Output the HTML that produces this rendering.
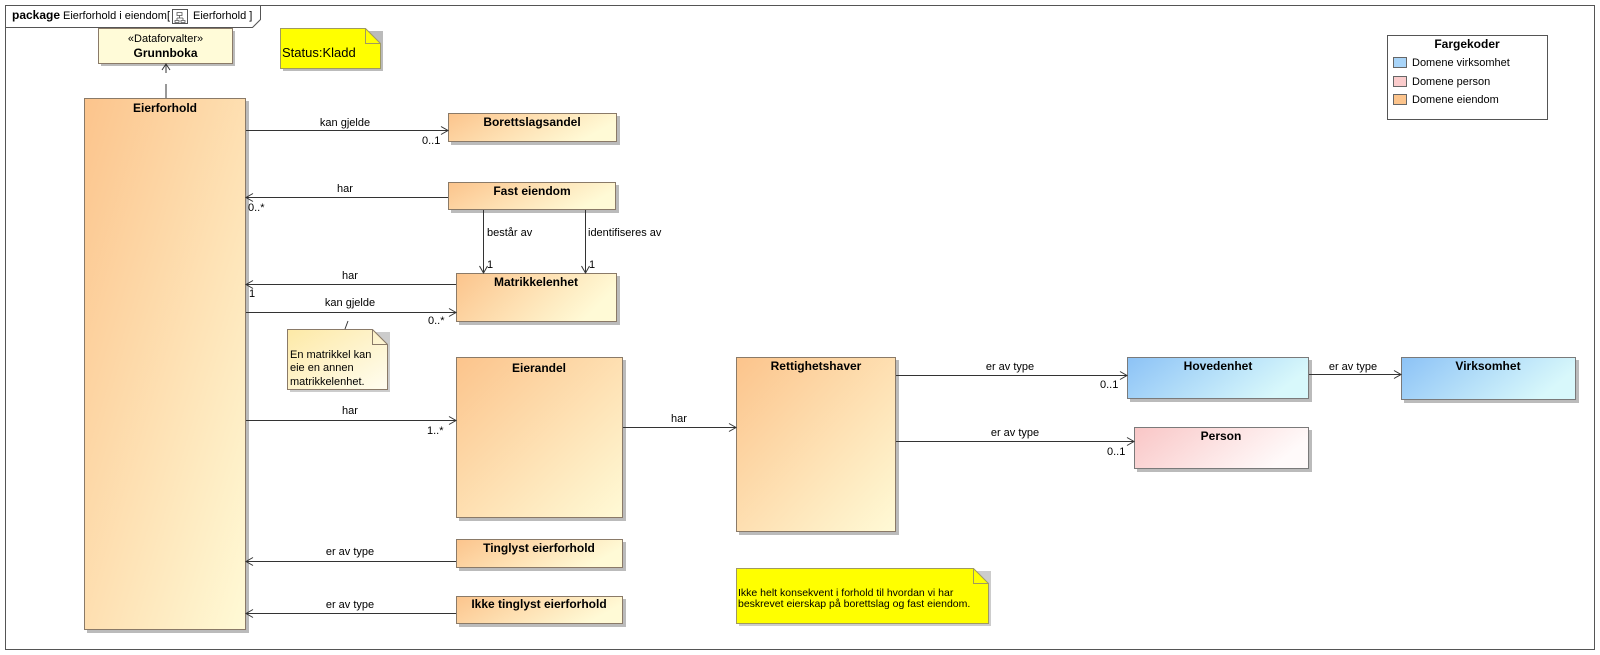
<!DOCTYPE html>
<html><head><meta charset="utf-8"><style>
html,body{margin:0;padding:0;background:#fff;}
svg{display:block;}
text{font-family:"Liberation Sans",Arial,sans-serif;fill:#000;}
.n{font-size:11px;}
.b{font-size:12px;font-weight:bold;}
</style></head><body>
<svg width="1600" height="655" viewBox="0 0 1600 655" xmlns="http://www.w3.org/2000/svg">
<defs>
<linearGradient id="go" x1="0" y1="0" x2="1" y2="1"><stop offset="0" stop-color="#fcc48c"/><stop offset="1" stop-color="#fffad6"/></linearGradient>
<linearGradient id="goh" x1="0" y1="0" x2="1" y2="0.3"><stop offset="0" stop-color="#fcc48c"/><stop offset="1" stop-color="#fffad6"/></linearGradient>
<linearGradient id="gb" x1="0" y1="0" x2="1" y2="0.3"><stop offset="0" stop-color="#8cc2f6"/><stop offset="1" stop-color="#d8f8fb"/></linearGradient>
<linearGradient id="gp" x1="0" y1="0" x2="1" y2="0.3"><stop offset="0" stop-color="#f9c6c6"/><stop offset="1" stop-color="#fffafa"/></linearGradient>
<linearGradient id="gn" x1="0" y1="0" x2="1" y2="1"><stop offset="0" stop-color="#fde9a6"/><stop offset="1" stop-color="#fffdf0"/></linearGradient>
</defs>

<!-- package frame -->
<rect x="5.5" y="5.5" width="1589" height="644" fill="none" stroke="#555" stroke-width="1"/>
<path d="M5.5 27.5 H252.5 L260.5 19.5 V5.5" fill="none" stroke="#555"/>
<text x="12" y="19" style="font-size:12px;font-weight:bold">package</text>
<text x="63" y="19" class="n">Eierforhold i eiendom[</text>
<rect x="172.5" y="9.5" width="15" height="14" fill="#fff" stroke="#555"/>
<path d="M177 12.5h5v3h-5z M175 20.5h4v2h-4z M181 20.5h4v2h-4z M179.5 15.5v2.5 M177 18h6 M177 18v2.5 M183 18v2.5" fill="none" stroke="#555" stroke-width="0.8"/>
<text x="193" y="19" class="n">Eierforhold ]</text>

<!-- Grunnboka -->
<rect x="101" y="31" width="134" height="35" fill="#bbb"/>
<rect x="98.5" y="28.5" width="134" height="35" fill="#fffbd8" stroke="#8a7a68"/>
<text x="165.5" y="42" class="n" text-anchor="middle">«Dataforvalter»</text>
<text x="165.5" y="57" class="b" text-anchor="middle">Grunnboka</text>
<path d="M166 98 V83" stroke="#333" stroke-dasharray="14,6"/>
<path d="M166 73 V64 M162 70 L166 64 L170 70" fill="none" stroke="#333"/>

<!-- Status note -->
<path d="M283 31 H383 V71 H283 Z" fill="#bbb"/>
<path d="M280.5 28.5 H365.5 L380.5 43.5 V68.5 H280.5 Z" fill="#ffff00" stroke="#a09a60"/>
<path d="M365.5 28.5 V43.5 H380.5" fill="none" stroke="#a09a60"/>
<text x="282" y="57" style="font-size:13px">Status:Kladd</text>

<!-- Legend -->
<rect x="1387.5" y="35.5" width="160" height="84" fill="#fff" stroke="#555"/>
<text x="1467" y="48" class="b" text-anchor="middle">Fargekoder</text>
<rect x="1393.5" y="57.5" width="13" height="10" fill="#a8d4f8" stroke="#666"/>
<text x="1412" y="66" class="n">Domene virksomhet</text>
<rect x="1393.5" y="76.5" width="13" height="10" fill="#fbcccc" stroke="#666"/>
<text x="1412" y="85" class="n">Domene person</text>
<rect x="1393.5" y="94.5" width="13" height="10" fill="#fcc48c" stroke="#666"/>
<text x="1412" y="103" class="n">Domene eiendom</text>

<!-- Eierforhold -->
<rect x="87" y="101" width="162" height="532" fill="#bbb"/>
<rect x="84.5" y="98.5" width="161" height="531" fill="url(#go)" stroke="#8a7a68"/>
<text x="165" y="112" class="b" text-anchor="middle">Eierforhold</text>

<!-- Borettslagsandel -->
<rect x="451" y="116" width="169" height="29" fill="#bbb"/>
<rect x="448.5" y="113.5" width="168" height="28" fill="url(#goh)" stroke="#8a7a68"/>
<text x="532" y="126" class="b" text-anchor="middle">Borettslagsandel</text>

<!-- Fast eiendom -->
<rect x="451" y="185" width="168" height="28" fill="#bbb"/>
<rect x="448.5" y="182.5" width="167" height="27" fill="url(#goh)" stroke="#8a7a68"/>
<text x="532" y="195" class="b" text-anchor="middle">Fast eiendom</text>

<!-- Matrikkelenhet -->
<rect x="459" y="276" width="161" height="49" fill="#bbb"/>
<rect x="456.5" y="273.5" width="160" height="48" fill="url(#goh)" stroke="#8a7a68"/>
<text x="536" y="286" class="b" text-anchor="middle">Matrikkelenhet</text>

<!-- Eierandel -->
<rect x="459" y="360" width="167" height="161" fill="#bbb"/>
<rect x="456.5" y="357.5" width="166" height="160" fill="url(#go)" stroke="#8a7a68"/>
<text x="539" y="372" class="b" text-anchor="middle">Eierandel</text>

<!-- Tinglyst -->
<rect x="459" y="542" width="167" height="29" fill="#bbb"/>
<rect x="456.5" y="539.5" width="166" height="28" fill="url(#goh)" stroke="#8a7a68"/>
<text x="539" y="552" class="b" text-anchor="middle">Tinglyst eierforhold</text>

<!-- Ikke tinglyst -->
<rect x="459" y="599" width="167" height="28" fill="#bbb"/>
<rect x="456.5" y="596.5" width="166" height="27" fill="url(#goh)" stroke="#8a7a68"/>
<text x="539" y="608" class="b" text-anchor="middle">Ikke tinglyst eierforhold</text>

<!-- Rettighetshaver -->
<rect x="739" y="360" width="160" height="175" fill="#bbb"/>
<rect x="736.5" y="357.5" width="159" height="174" fill="url(#go)" stroke="#8a7a68"/>
<text x="816" y="370" class="b" text-anchor="middle">Rettighetshaver</text>

<!-- Hovedenhet -->
<rect x="1130" y="360" width="182" height="42" fill="#bbb"/>
<rect x="1127.5" y="357.5" width="181" height="41" fill="url(#gb)" stroke="#7a7a7a"/>
<text x="1218" y="370" class="b" text-anchor="middle">Hovedenhet</text>

<!-- Virksomhet -->
<rect x="1404" y="360" width="175" height="43" fill="#bbb"/>
<rect x="1401.5" y="357.5" width="174" height="42" fill="url(#gb)" stroke="#7a7a7a"/>
<text x="1488" y="370" class="b" text-anchor="middle">Virksomhet</text>

<!-- Person -->
<rect x="1137" y="430" width="175" height="42" fill="#bbb"/>
<rect x="1134.5" y="427.5" width="174" height="41" fill="url(#gp)" stroke="#7a7a7a"/>
<text x="1221" y="440" class="b" text-anchor="middle">Person</text>

<!-- Matrikkel note -->
<path d="M290 332 H390 V392 H290 Z" fill="#ccc"/>
<path d="M287.5 329.5 H372.5 L387.5 344.5 V389.5 H287.5 Z" fill="url(#gn)" stroke="#8a7a68"/>
<path d="M372.5 329.5 V344.5 H387.5" fill="none" stroke="#8a7a68"/>
<text x="290" y="358" class="n">En matrikkel kan</text>
<text x="290" y="371" class="n">eie en annen</text>
<text x="290" y="385" class="n">matrikkelenhet.</text>
<path d="M345 329 L348 321" stroke="#333"/>

<!-- Yellow note -->
<path d="M739 571 H991 V626 H739 Z" fill="#ccc"/>
<path d="M736.5 568.5 H973.5 L988.5 583.5 V623.5 H736.5 Z" fill="#ffff00" stroke="#a09a60"/>
<path d="M973.5 568.5 V583.5 H988.5" fill="none" stroke="#a09a60"/>
<text x="738" y="596" style="font-size:10.5px">Ikke helt konsekvent i forhold til hvordan vi har</text>
<text x="738" y="607" style="font-size:10.5px">beskrevet eierskap på borettslag og fast eiendom.</text>

<!-- connectors -->
<g stroke="#333" stroke-width="1" fill="none">
<path d="M246 130.5 H448"/><path d="M441 126.5 L448 130.5 L441 134.5"/>
<path d="M448 197.5 H246"/><path d="M253 193.5 L246 197.5 L253 201.5"/>
<path d="M483.5 210 V273"/><path d="M479.5 266 L483.5 273 L487.5 266"/>
<path d="M585.5 210 V273"/><path d="M581.5 266 L585.5 273 L589.5 266"/>
<path d="M456 284.5 H246"/><path d="M253 280.5 L246 284.5 L253 288.5"/>
<path d="M246 312.5 H456"/><path d="M449 308.5 L456 312.5 L449 316.5"/>
<path d="M246 420.5 H456"/><path d="M449 416.5 L456 420.5 L449 424.5"/>
<path d="M623 427.5 H736"/><path d="M729 423.5 L736 427.5 L729 431.5"/>
<path d="M896 375.5 H1127"/><path d="M1120 371.5 L1127 375.5 L1120 379.5"/>
<path d="M896 441.5 H1134"/><path d="M1127 437.5 L1134 441.5 L1127 445.5"/>
<path d="M1309 374.5 H1401"/><path d="M1394 370.5 L1401 374.5 L1394 378.5"/>
<path d="M456 561.5 H246"/><path d="M253 557.5 L246 561.5 L253 565.5"/>
<path d="M456 613.5 H246"/><path d="M253 609.5 L246 613.5 L253 617.5"/>
</g>

<!-- connector labels -->
<g class="n">
<text x="345" y="126" class="n" text-anchor="middle">kan gjelde</text>
<text x="422" y="144" class="n">0..1</text>
<text x="345" y="192" class="n" text-anchor="middle">har</text>
<text x="248" y="211" class="n">0..*</text>
<text x="487" y="236" class="n">består av</text>
<text x="588" y="236" class="n">identifiseres av</text>
<text x="487" y="268" class="n">1</text>
<text x="589" y="268" class="n">1</text>
<text x="350" y="279" class="n" text-anchor="middle">har</text>
<text x="249" y="297" class="n">1</text>
<text x="350" y="306" class="n" text-anchor="middle">kan gjelde</text>
<text x="428" y="324" class="n">0..*</text>
<text x="350" y="414" class="n" text-anchor="middle">har</text>
<text x="427" y="434" class="n">1..*</text>
<text x="679" y="422" class="n" text-anchor="middle">har</text>
<text x="1010" y="370" class="n" text-anchor="middle">er av type</text>
<text x="1100" y="388" class="n">0..1</text>
<text x="1015" y="436" class="n" text-anchor="middle">er av type</text>
<text x="1107" y="455" class="n">0..1</text>
<text x="1353" y="370" class="n" text-anchor="middle">er av type</text>
<text x="350" y="555" class="n" text-anchor="middle">er av type</text>
<text x="350" y="608" class="n" text-anchor="middle">er av type</text>
</g>
</svg>
</body></html>
